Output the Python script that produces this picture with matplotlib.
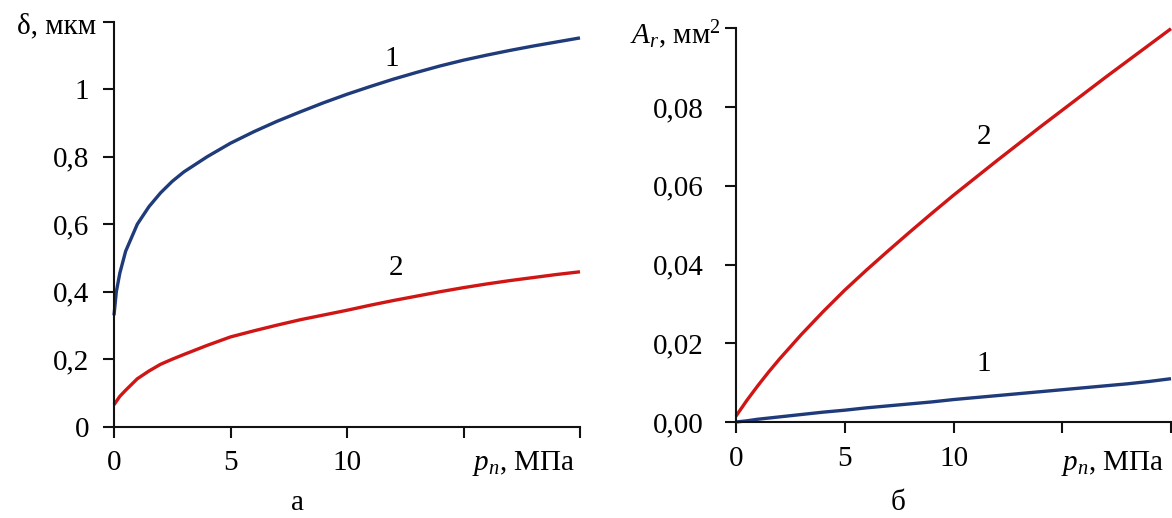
import matplotlib
matplotlib.use("Agg")
import matplotlib.pyplot as plt

plt.rcParams['font.family'] = ['Liberation Serif', 'DejaVu Serif']
plt.rcParams['mathtext.fontset'] = 'custom'
plt.rcParams['mathtext.rm'] = 'Liberation Serif'
plt.rcParams['mathtext.it'] = 'Liberation Serif:italic'

# ---- data ----
p_a = [0, 0.1, 0.25, 0.5, 1, 1.5, 2, 2.5, 3, 4, 5, 6, 7, 8, 9, 10,
       11, 12, 13, 14, 15, 16, 17, 18, 19, 20]
delta_1 = [0.33, 0.40, 0.455, 0.52, 0.60, 0.652, 0.693, 0.727, 0.755, 0.80,
           0.84, 0.874, 0.905, 0.933, 0.96, 0.985, 1.008, 1.03, 1.05, 1.069,
           1.086, 1.101, 1.115, 1.128, 1.14, 1.152]
delta_2 = [0.065, 0.075, 0.09, 0.108, 0.142, 0.165, 0.185, 0.20, 0.214, 0.241,
           0.266, 0.284, 0.301, 0.317, 0.331, 0.345, 0.36, 0.374, 0.387,
           0.40, 0.412, 0.423, 0.433, 0.442, 0.451, 0.459]

p_b = [0, 0.5, 1, 1.5, 2, 3, 4, 5, 6, 7, 8, 9, 10,
       11, 12, 13, 14, 15, 16, 17, 18, 19, 20]
Ar_1 = [0.0, 0.0003, 0.0007, 0.001, 0.0013, 0.0019, 0.0025, 0.003, 0.0036,
        0.0041, 0.0046, 0.0051, 0.0057, 0.0062, 0.0067, 0.0072, 0.0077,
        0.0082, 0.0087, 0.0092, 0.0097, 0.0103, 0.0110]
Ar_2 = [0.0015, 0.0055, 0.0092, 0.0127, 0.016, 0.0222, 0.028, 0.0335, 0.0386,
        0.0435, 0.0483, 0.053, 0.0576, 0.062, 0.0664, 0.0707, 0.075, 0.0792,
        0.0834, 0.0876, 0.0917, 0.0958, 0.0999]

xticks = [0, 5, 10, 15, 20]
xticklabels = ['0', '5', '10', '', '']
yticks_a = [0, 0.2, 0.4, 0.6, 0.8, 1.0, 1.2]
yticklabels_a = ['0', '0,2', '0,4', '0,6', '0,8', '1', '']
yticks_b = [0, 0.02, 0.04, 0.06, 0.08, 0.10]
yticklabels_b = ['0,00', '0,02', '0,04', '0,06', '0,08', '']

BLUE = '#1f3b7a'
RED = '#d01515'
FS = 21

fig = plt.figure(figsize=(11.72, 5.18), dpi=100)
axa = fig.add_axes([114/1172, 1-426.7/518, (580-114)/1172, (426.7-21.7)/518])
axb = fig.add_axes([736/1172, 1-422/518, (1171-736)/1172, (422-28.3)/518])

def style(ax, ypad):
    for s in ['top', 'right']:
        ax.spines[s].set_visible(False)
    for s in ['left', 'bottom']:
        ax.spines[s].set_linewidth(1.5)
        ax.spines[s].set_color('#111111')
    ax.tick_params(direction='out', length=8, width=1.5, color='#111111',
                   labelsize=FS)
    ax.tick_params(axis='x', pad=9)
    ax.tick_params(axis='y', pad=ypad)
    ax.set_xlim(0, 20)
    ax.set_xticks(xticks)
    ax.set_xticklabels(xticklabels)

style(axa, 10)
axa.set_ylim(0, 1.2)
axa.set_yticks(yticks_a)
axa.set_yticklabels(yticklabels_a)
axa.plot(p_a, delta_1, color=BLUE, lw=2.4, solid_capstyle='butt', clip_on=False)
axa.plot(p_a, delta_2, color=RED, lw=2.4, solid_capstyle='butt', clip_on=False)
axa.text(11.9, 1.09, '1', fontsize=FS, ha='center', va='center')
axa.text(12.1, 0.47, '2', fontsize=FS, ha='center', va='center')
axa.text(-0.75, 1.185, 'δ, мкм', fontsize=FS, ha='right', va='center')
axa.text(19.8, -0.11, r'$p_n$, МПа', fontsize=FS, ha='right', va='center')

style(axb, 15)
axb.set_ylim(0, 0.10)
axb.set_yticks(yticks_b)
axb.set_yticklabels(yticklabels_b)
axb.plot(p_b, Ar_1, color=BLUE, lw=2.4, solid_capstyle='butt', clip_on=False)
axb.plot(p_b, Ar_2, color=RED, lw=2.4, solid_capstyle='butt', clip_on=False)
axb.text(11.4, 0.0725, '2', fontsize=FS, ha='center', va='center')
axb.text(11.4, 0.0148, '1', fontsize=FS, ha='center', va='center')
axb.text(-0.7, 0.0985, r'$A_r$, мм$^2$', fontsize=FS, ha='right', va='center')
axb.text(19.7, -0.0105, r'$p_n$, МПа', fontsize=FS, ha='right', va='center')

fig.text(297/1172, 1-503/518, 'а', fontsize=FS, ha='center', va='center')
fig.text(898/1172, 1-503/518, 'б', fontsize=FS, ha='center', va='center')

fig.savefig('out.png', dpi=100)
